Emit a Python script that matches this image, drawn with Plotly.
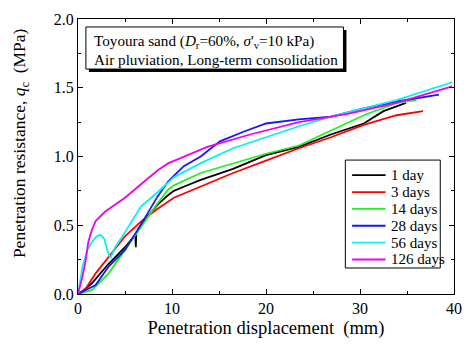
import plotly.graph_objects as go

# ---- data (penetration displacement mm, resistance MPa) ----
x_1d = [0, 0.5, 1.5, 3.26, 5.0, 6.1, 6.15, 6.2, 6.74, 8.47, 9.6, 10.2, 11.25, 13.05, 16.5, 20.0, 23.5, 26.9, 30.4, 32.5, 34.9]
q_1d = [0, 0.02, 0.08, 0.22, 0.34, 0.43, 0.34, 0.44, 0.51, 0.65, 0.72, 0.75, 0.78, 0.83, 0.91, 1.01, 1.07, 1.16, 1.24, 1.33, 1.39]

x_3d = [0, 0.83, 1.875, 3.26, 5.0, 6.74, 8.47, 10.2, 13.05, 16.5, 20.0, 23.5, 26.9, 30.4, 33.9, 36.7]
q_3d = [0, 0.04, 0.15, 0.27, 0.42, 0.53, 0.62, 0.70, 0.78, 0.88, 0.97, 1.06, 1.14, 1.23, 1.30, 1.33]

x_14d = [0, 1.5, 3.26, 5.0, 6.74, 8.47, 9.6, 10.2, 13.05, 16.5, 20.0, 23.5, 26.9, 30.4, 33.9, 36.0]
q_14d = [0, 0.03, 0.15, 0.32, 0.49, 0.66, 0.76, 0.79, 0.88, 0.95, 1.02, 1.08, 1.19, 1.30, 1.39, 1.41]

x_28d = [0, 1.875, 3.26, 5.0, 6.74, 8.47, 9.6, 11.25, 13.05, 15.1, 17.6, 20.0, 23.5, 26.9, 30.4, 33.9, 38.4]
q_28d = [0, 0.065, 0.20, 0.32, 0.51, 0.71, 0.82, 0.93, 1.00, 1.11, 1.18, 1.24, 1.27, 1.29, 1.35, 1.40, 1.45]

x_56d = [0, 0.49, 1.0, 1.5, 2.0, 2.4, 2.8, 3.1, 3.44, 3.96, 5.0, 6.74, 8.47, 10.2, 13.0, 16.5, 20.0, 23.5, 26.9, 30.4, 33.9, 39.8]
q_56d = [0, 0.20, 0.32, 0.38, 0.42, 0.43, 0.40, 0.32, 0.26, 0.34, 0.45, 0.64, 0.74, 0.85, 0.95, 1.06, 1.14, 1.22, 1.29, 1.35, 1.41, 1.54]

x_126d = [0, 0.49, 0.83, 1.1, 1.5, 1.875, 2.9, 5.0, 7.08, 8.5, 9.58, 11.25, 13.75, 18.3, 23.5, 28.7, 33.9, 39.8]
q_126d = [0, 0.13, 0.25, 0.38, 0.47, 0.53, 0.60, 0.70, 0.82, 0.90, 0.95, 1.00, 1.07, 1.16, 1.25, 1.31, 1.39, 1.51]

labels = ["1 day", "3 days", "14 days", "28 days", "56 days", "126 days"]
colors = ["#000000", "#ff0000", "#22f022", "#1515ff", "#00f2f2", "#f000f0"]
xs = [x_1d, x_3d, x_14d, x_28d, x_56d, x_126d]
qs = [q_1d, q_3d, q_14d, q_28d, q_56d, q_126d]

x_ticks = [0, 10, 20, 30, 40]
y_ticks = [0.0, 0.5, 1.0, 1.5, 2.0]

FONT = "Liberation Serif"

fig = go.Figure()
for x, q, lab, c in zip(xs, qs, labels, colors):
    fig.add_trace(go.Scatter(x=x, y=q, mode="lines", name=lab,
                             line=dict(color=c, width=1.8), showlegend=False))

axis_common = dict(showline=True, linecolor="black", linewidth=1, mirror="ticks",
                   ticks="inside", ticklen=5, tickwidth=1, tickcolor="black",
                   showgrid=False, zeroline=False,
                   tickfont=dict(family=FONT, size=16, color="black"))

fig.update_xaxes(range=[0, 40], tickvals=x_ticks, ticktext=[str(v) for v in x_ticks],
                 minor=dict(dtick=5, ticks="inside", ticklen=3, tickcolor="black", showgrid=False),
                 title=dict(text="Penetration displacement  (mm)", font=dict(family=FONT, size=18.5, color="black"), standoff=4),
                 **axis_common)
fig.update_yaxes(range=[0, 2.0], tickvals=y_ticks, ticktext=[f"{v:.1f}" for v in y_ticks],
                 minor=dict(dtick=0.25, ticks="inside", ticklen=3, tickcolor="black", showgrid=False),
                 **axis_common)

# y-axis title (placed slightly above the plot centre, as in the reference)
fig.add_annotation(xref="paper", yref="paper", x=-0.154, y=0.549, xanchor="center", yanchor="middle",
                   textangle=-90, showarrow=False,
                   text="Penetration resistance, <i>q</i><sub>c</sub>  (MPa)",
                   font=dict(family=FONT, size=17.5, color="black"))

# annotation box with shadow
fig.add_shape(type="rect", xref="paper", yref="paper", x0=0.029, x1=0.714, y0=0.807, y1=0.960,
              fillcolor="black", line=dict(width=0), layer="above")
fig.add_shape(type="rect", xref="paper", yref="paper", x0=0.021, x1=0.706, y0=0.818, y1=0.971,
              fillcolor="white", line=dict(color="black", width=1), layer="above")
fig.add_annotation(xref="paper", yref="paper", x=0.036, y=0.918, xanchor="left", yanchor="middle",
                   text="Toyoura sand (<i>D</i><sub>r</sub>=60%, <i>σ</i>'<sub>v</sub>=10 kPa)",
                   showarrow=False, font=dict(family=FONT, size=15.2, color="black"))
fig.add_annotation(xref="paper", yref="paper", x=0.036, y=0.853, xanchor="left", yanchor="middle",
                   text="Air pluviation, Long-term consolidation",
                   showarrow=False, font=dict(family=FONT, size=15.2, color="black"))

# legend box (drawn manually for tight row spacing)
leg_x0, leg_x1, leg_y0, leg_y1 = 0.711, 0.9635, 0.0945, 0.487
fig.add_shape(type="rect", xref="paper", yref="paper", x0=leg_x0, x1=leg_x1, y0=leg_y0, y1=leg_y1,
              fillcolor="white", line=dict(color="black", width=1), layer="above")
row_top, row_step = 0.432, 0.0613
for i, (lab, c) in enumerate(zip(labels, colors)):
    yy = row_top - i * row_step
    fig.add_shape(type="line", xref="paper", yref="paper", x0=0.729, x1=0.818, y0=yy, y1=yy,
                  line=dict(color=c, width=1.8), layer="above")
    fig.add_annotation(xref="paper", yref="paper", x=0.826, y=yy, xanchor="left", yanchor="middle",
                       text=lab, showarrow=False, font=dict(family=FONT, size=15, color="black"))

fig.update_layout(
    width=470, height=345,
    margin=dict(l=78, r=8, t=19, b=51),
    paper_bgcolor="white", plot_bgcolor="white",
    font=dict(family=FONT, size=14, color="black"),
    showlegend=False,
)

fig.write_html("out.html", config={"displayModeBar": False},
               post_script="document.body.style.margin='0';document.body.style.overflow='hidden';")
